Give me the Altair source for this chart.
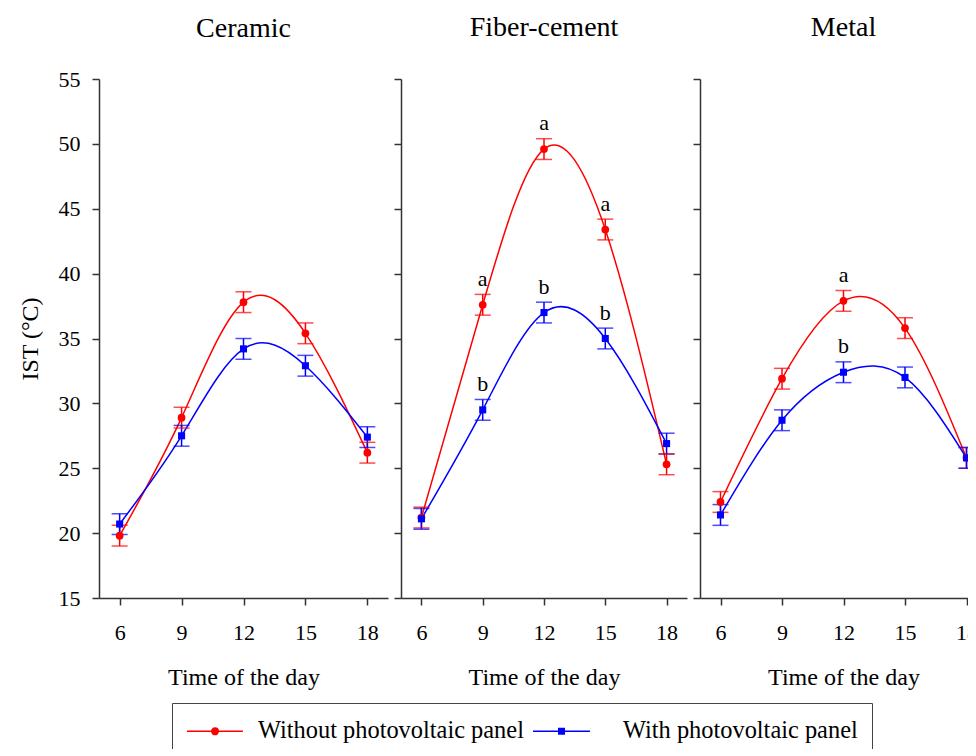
import altair as alt
import pandas as pd

times = [6, 9, 12, 15, 18]
materials = ["Ceramic", "Fiber-cement", "Metal"]
series = ["Without photovoltaic panel", "With photovoltaic panel"]
y_ticks = [15, 20, 25, 30, 35, 40, 45, 50, 55]

ceramic_without = [19.8, 28.9, 37.8, 35.4, 26.2]
ceramic_with = [20.7, 27.5, 34.2, 32.9, 27.4]
fiber_without = [21.2, 37.6, 49.6, 43.4, 25.3]
fiber_with = [21.1, 29.5, 37.0, 35.0, 26.9]
metal_without = [22.4, 31.9, 37.9, 35.8, 25.8]
metal_with = [21.4, 28.7, 32.4, 32.0, 25.8]

ceramic_without_err = [0.8, 0.8, 0.8, 0.8, 0.8]
ceramic_with_err = [0.8, 0.8, 0.8, 0.8, 0.8]
fiber_without_err = [0.8, 0.8, 0.8, 0.8, 0.8]
fiber_with_err = [0.8, 0.8, 0.8, 0.8, 0.8]
metal_without_err = [0.8, 0.8, 0.8, 0.8, 0.8]
metal_with_err = [0.8, 0.8, 0.8, 0.8, 0.8]

ceramic_without_letters = ["", "", "", "", ""]
ceramic_with_letters = ["", "", "", "", ""]
fiber_without_letters = ["", "a", "a", "a", ""]
fiber_with_letters = ["", "b", "b", "b", ""]
metal_without_letters = ["", "", "a", "", ""]
metal_with_letters = ["", "", "b", "", ""]

table = {
    "Ceramic": [(ceramic_without, ceramic_without_err, ceramic_without_letters),
                (ceramic_with, ceramic_with_err, ceramic_with_letters)],
    "Fiber-cement": [(fiber_without, fiber_without_err, fiber_without_letters),
                     (fiber_with, fiber_with_err, fiber_with_letters)],
    "Metal": [(metal_without, metal_without_err, metal_without_letters),
              (metal_with, metal_with_err, metal_with_letters)],
}

rows = []
for mat in materials:
    for s, (vals, errs, lets) in zip(series, table[mat]):
        for t, v, e, l in zip(times, vals, errs, lets):
            rows.append({"material": mat, "series": s, "time": t, "ist": v,
                         "lo": v - e, "hi": v + e, "letter": l})
df = pd.DataFrame(rows)

FONT = "Liberation Serif"


def rings(cx, radii):
    return "".join("M%g,0A%g,%g 0 1,1 %g,0A%g,%g 0 1,1 %g,0" % (cx - r, r, r, cx + r, r, r, cx - r)
                   for r in radii)


def boxes(cx, halves):
    return "".join("M%g,-%gH%gV%gH%gZ" % (cx - h, h, cx + h, h, cx - h) for h in halves)


# legend glyphs: a line with a marker on it
CIRCLE_PATH = "M-1,0H3.3" + rings(1.154, [0.06, 0.15, 0.25])
SQUARE_PATH = "M-2.46,0H1.92" + boxes(-0.27, [0.06, 0.14, 0.21])

legend = alt.Legend(
    title=None, orient="none", legendX=73, legendY=624, direction="horizontal",
    symbolSize=676, labelFont=FONT, labelFontSize=24.4, labelColor="black",
    labelOffset=44, columnPadding=6, padding=14, strokeColor="#444",
    fillColor="white", symbolStrokeWidth=1.5, labelLimit=0, symbolOpacity=1,
)

color_scale = alt.Scale(domain=series, range=["#ff0000", "#0000ff"])
panel_widths = {"Ceramic": 289, "Fiber-cement": 286, "Metal": 287}


def panel(mat, first):
    base = alt.Chart(df).transform_filter(alt.datum.material == mat)
    x = alt.X("time:Q", title="Time of the day",
              scale=alt.Scale(domain=[5, 19], nice=False, zero=False),
              axis=alt.Axis(values=times, labelPadding=17, titlePadding=22))

    def Y(field):
        return alt.Y(field, title="IST (°C)" if first else None,
                     scale=alt.Scale(domain=[15, 55], nice=False, zero=False),
                     axis=alt.Axis(values=y_ticks, labels=first, labelPadding=12,
                                   titlePadding=16))

    c = alt.Color("series:N", scale=color_scale, legend=legend)

    line = base.mark_line(interpolate="natural", strokeWidth=1.5).encode(
        x=x, y=Y("ist:Q"), color=c, detail="series:N")
    rule = base.mark_rule(strokeWidth=1.5).encode(
        x=x, y=Y("lo:Q"), y2="hi:Q", color=c)
    cap_lo = base.mark_tick(orient="horizontal", size=16, thickness=1.5).encode(
        x=x, y=Y("lo:Q"), color=c)
    cap_hi = base.mark_tick(orient="horizontal", size=16, thickness=1.5).encode(
        x=x, y=Y("hi:Q"), color=c)
    pts_c = base.transform_filter(alt.datum.series == series[0]).mark_point(
        filled=True, opacity=1, size=60, shape="circle").encode(
        x=x, y=Y("ist:Q"), color=c)
    pts_s = base.transform_filter(alt.datum.series == series[1]).mark_point(
        filled=True, opacity=1, size=50, shape="square").encode(
        x=x, y=Y("ist:Q"), color=c)
    txt = base.transform_filter(alt.datum.letter != "").transform_calculate(
        ty="datum.hi + 1.2").mark_text(font=FONT, fontSize=22, baseline="middle",
                                        color="black").encode(
        x=x, y=Y("ty:Q"), text="letter:N")
    layers = [line, rule, cap_lo, cap_hi, pts_c, pts_s, txt]
    if first:
        dummy = base.transform_filter("false").mark_point(
            filled=False, opacity=1, strokeWidth=1.5, size=676).encode(
            x=x, y=Y("ist:Q"), color=c,
            shape=alt.Shape("series:N", scale=alt.Scale(domain=series,
                                                        range=[CIRCLE_PATH, SQUARE_PATH]),
                            legend=legend))
        layers.append(dummy)
    return alt.layer(*layers).properties(
        width=panel_widths[mat], height=519,
        title=alt.TitleParams(mat, font=FONT, fontSize=28, fontWeight="normal",
                              color="black", offset=25 if first else 36,
                              anchor="middle", frame="group"))


chart = alt.hconcat(
    panel("Ceramic", True), panel("Fiber-cement", False), panel("Metal", False),
    spacing=13, bounds="flush",
    padding={"left": 10, "top": 6, "right": -19, "bottom": -9},
).configure_view(stroke=None).configure_axis(
    grid=False, domainColor="#333", domainWidth=1.5, tickColor="#333", tickWidth=1.5,
    tickSize=7, labelFont=FONT, labelFontSize=22, labelColor="black",
    titleFont=FONT, titleFontSize=24, titleFontWeight="normal", titleColor="black",
)

chart.save("out.html", embed_options={"renderer": "svg", "actions": False})
